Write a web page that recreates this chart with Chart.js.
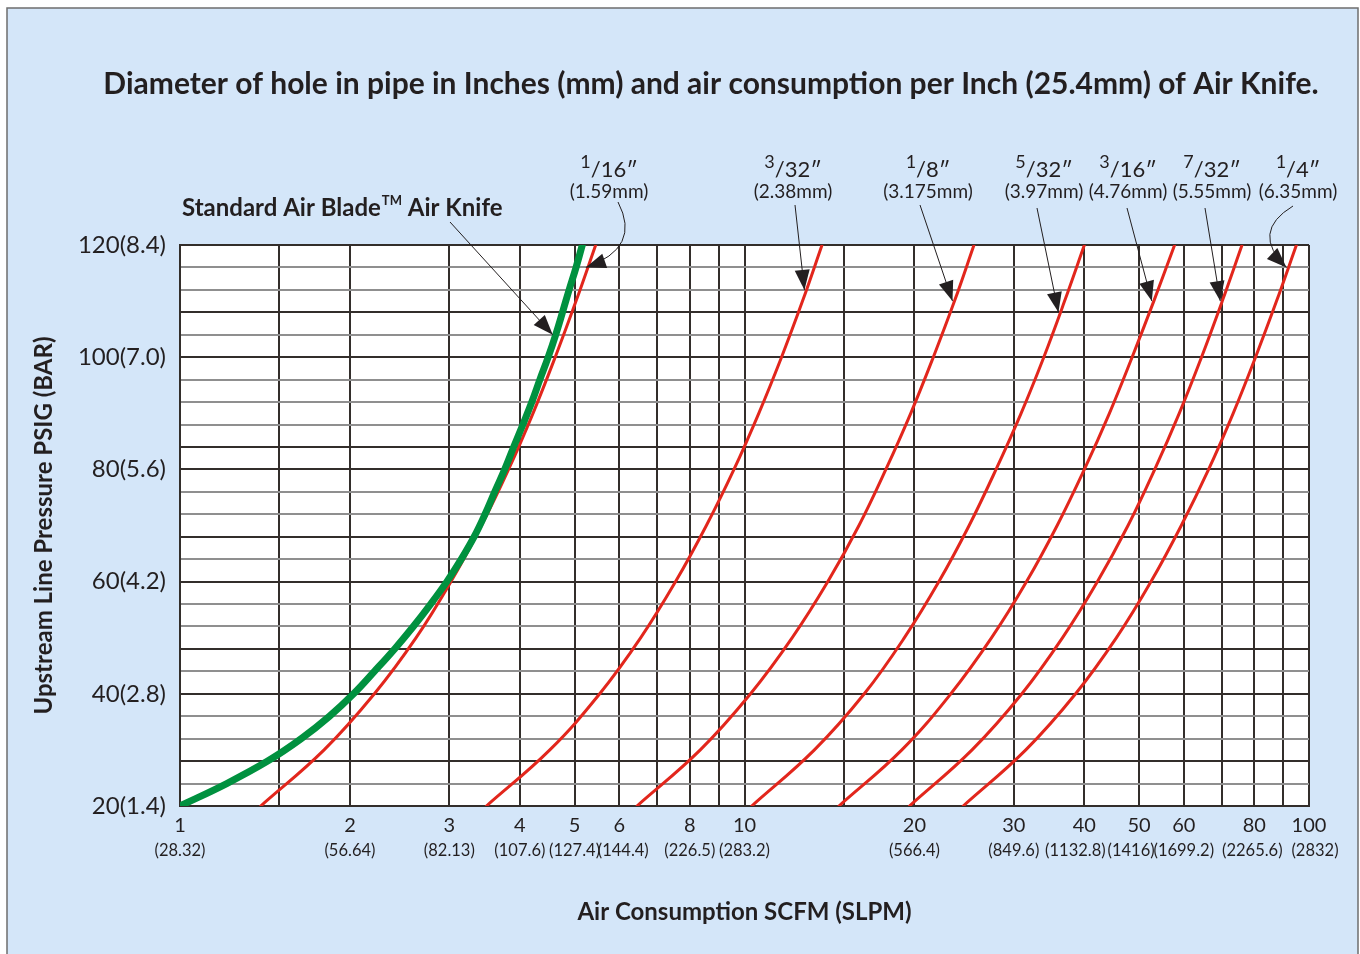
<!DOCTYPE html>
<html>
<head>
<meta charset="utf-8">
<script src="https://cdn.jsdelivr.net/npm/chart.js@4.4.1/dist/chart.umd.min.js"></script>
<style>
html, body { margin: 0; padding: 0; background: #fff; }
</style>
</head>
<body>
<canvas id="chart" width="1360" height="954"></canvas>
<script>
// pressure (psig) on y, air consumption (scfm) on x for each curve
var pressures = [20, 30, 40, 50, 60, 70, 80, 90, 100, 110, 120];
var hole1_16 = [1.39, 1.80, 2.21, 2.62, 3.02, 3.42, 3.82, 4.22, 4.62, 5.03, 5.45];
var hole3_32 = [3.49, 4.52, 5.54, 6.55, 7.55, 8.56, 9.58, 10.6, 11.63, 12.67, 13.72];
var hole1_8 = [6.45, 8.35, 10.25, 12.15, 14.05, 15.95, 17.8, 19.7, 21.6, 23.55, 25.5];
var hole5_32 = [10.3, 13.3, 16.3, 19.2, 22.1, 25.0, 27.9, 30.9, 33.9, 36.9, 40.0];
var hole3_16 = [14.7, 19.0, 23.2, 27.4, 31.6, 35.8, 40.0, 44.3, 48.6, 53.1, 57.8];
var hole7_32 = [19.6, 25.3, 31.0, 36.6, 42.2, 47.8, 53.3, 58.9, 64.5, 70.2, 76.1];
var hole1_4 = [24.4, 31.5, 38.6, 45.6, 52.5, 59.4, 66.4, 73.4, 80.4, 87.6, 95.0];

// the air knife curve bends hard, so it is read on every minor grid line
var bladePressures = [20, 24, 28, 32, 36, 40, 44, 48, 52, 56, 60, 64, 68, 72, 76, 80, 84, 88, 92, 96, 100, 104, 108, 112, 116, 120];
var airBlade = [1.0, 1.21, 1.43, 1.64, 1.84, 2.03, 2.21, 2.40, 2.59, 2.78, 2.97, 3.15, 3.32, 3.47, 3.61, 3.76, 3.90, 4.05, 4.20, 4.34, 4.49, 4.63, 4.76, 4.89, 5.03, 5.16];

var scfmTicks = [1, 2, 3, 4, 5, 6, 8, 10, 20, 30, 40, 50, 60, 80, 100];
var slpmLabels = ['(28.32)', '(56.64)', '(82.13)', '(107.6)', '(127.4)', '(144.4)', '(226.5)', '(283.2)',
  '(566.4)', '(849.6)', '(1132.8)', '(1416)', '(1699.2)', '(2265.6)', '(2832)'];
var xGridLines = [1, 1.5, 2, 3, 4, 5, 6, 7, 8, 9, 10, 15, 20, 30, 40, 50, 60, 70, 80, 90, 100];
var psigTicks = [20, 40, 60, 80, 100, 120];
var barLabels = ['(1.4)', '(2.8)', '(4.2)', '(5.6)', '(7.0)', '(8.4)'];
var darkRows = [20, 28, 40, 48, 60, 68, 80, 84, 100, 108, 120];

// small sideways nudges so the crowded SLPM labels do not collide
var slpmNudge = { 6: 4, 40: -9, 50: -8, 80: -2, 100: 6 };

var FONT = 'Lato, "Open Sans", sans-serif';
var INK = '#231f20';
var GRID = '#332e2b';
var RED = '#e2261c';

// label layout for the hole size curves
var holeLabels = [
  { num: '1', den: '16', mm: '(1.59mm)', cx: 609, data: hole1_16, p: 116, from: [618, 202], bend: [642, 248] },
  { num: '3', den: '32', mm: '(2.38mm)', cx: 793, data: hole3_32, p: 112, from: [795, 205] },
  { num: '1', den: '8', mm: '(3.175mm)', cx: 928, data: hole1_8, p: 110, from: [920, 205] },
  { num: '5', den: '32', mm: '(3.97mm)', cx: 1044, data: hole5_32, p: 108, from: [1037, 208] },
  { num: '3', den: '16', mm: '(4.76mm)', cx: 1128, data: hole3_16, p: 110, from: [1127, 208] },
  { num: '7', den: '32', mm: '(5.55mm)', cx: 1212, data: hole7_32, p: 110, from: [1205, 208] },
  { num: '1', den: '4', mm: '(6.35mm)', cx: 1298, data: hole1_4, p: 116, from: [1293, 206], bend: [1250, 232] }
];

function toPoints(xs, ps) {
  return xs.map(function (v, i) { return { x: v, y: ps[i] }; });
}

function curvePixel(chart, xs, ps, p) {
  var i = 0;
  while (i < ps.length - 2 && p > ps[i + 1]) i++;
  var t = (p - ps[i]) / (ps[i + 1] - ps[i]);
  var lx = Math.log10(xs[i]) + t * (Math.log10(xs[i + 1]) - Math.log10(xs[i]));
  return { x: chart.scales.x.getPixelForValue(Math.pow(10, lx)), y: chart.scales.y.getPixelForValue(p) };
}

function drawArrow(ctx, sx, sy, tx, ty, bend) {
  ctx.beginPath();
  ctx.moveTo(sx, sy);
  var fx = sx, fy = sy;
  if (bend) {
    ctx.quadraticCurveTo(bend[0], bend[1], tx, ty);
    fx = bend[0]; fy = bend[1];
  } else {
    ctx.lineTo(tx, ty);
  }
  ctx.stroke();
  var ang = Math.atan2(ty - fy, tx - fx);
  var len = 20, half = 7.5;
  ctx.beginPath();
  ctx.moveTo(tx, ty);
  ctx.lineTo(tx - len * Math.cos(ang) + half * Math.sin(ang), ty - len * Math.sin(ang) - half * Math.cos(ang));
  ctx.lineTo(tx - len * Math.cos(ang) - half * Math.sin(ang), ty - len * Math.sin(ang) + half * Math.cos(ang));
  ctx.closePath();
  ctx.fill();
}

var backdrop = {
  id: 'backdrop',
  beforeDraw: function (chart) {
    var ctx = chart.ctx, a = chart.chartArea;
    ctx.save();
    ctx.fillStyle = '#ffffff';
    ctx.fillRect(0, 0, chart.width, chart.height);
    ctx.fillStyle = '#d4e6f9';
    ctx.fillRect(7, 8, chart.width - 9, chart.height);
    ctx.strokeStyle = '#6e6e6e';
    ctx.lineWidth = 1.5;
    ctx.strokeRect(7, 8, chart.width - 9, chart.height + 10);
    ctx.fillStyle = '#ffffff';
    ctx.fillRect(a.left, a.top, a.right - a.left, a.bottom - a.top);
    ctx.restore();
  }
};

var annotate = {
  id: 'annotate',
  afterDraw: function (chart) {
    var ctx = chart.ctx;
    var xs = chart.scales.x;
    ctx.save();
    ctx.fillStyle = INK;
    ctx.strokeStyle = INK;
    ctx.lineWidth = 1;

    // title
    ctx.font = 'bold 30px ' + FONT;
    ctx.textAlign = 'center';
    ctx.textBaseline = 'middle';
    ctx.fillText('Diameter of hole in pipe in Inches (mm) and air consumption per Inch (25.4mm) of Air Knife.', 711, 84);

    // SLPM line under the SCFM tick labels
    ctx.font = '16.5px ' + FONT;
    scfmTicks.forEach(function (v, i) {
      ctx.fillText(slpmLabels[i], xs.getPixelForValue(v) + (slpmNudge[v] || 0), 851);
    });

    // air knife label
    ctx.textAlign = 'left';
    ctx.textBaseline = 'alphabetic';
    ctx.font = 'bold 24px ' + FONT;
    var s1 = 'Standard Air Blade';
    ctx.fillText(s1, 182, 216);
    var w1 = ctx.measureText(s1).width;
    ctx.font = 'bold 13px ' + FONT;
    ctx.fillText('TM', 182 + w1 + 1, 205);
    var w2 = ctx.measureText('TM').width;
    ctx.font = 'bold 24px ' + FONT;
    ctx.fillText(' Air Knife', 182 + w1 + w2 + 1, 216);
    var tip = curvePixel(chart, airBlade, bladePressures, 104);
    drawArrow(ctx, 450, 222, tip.x - 3, tip.y, null);

    // hole size labels
    holeLabels.forEach(function (h) {
      ctx.textAlign = 'left';
      ctx.textBaseline = 'alphabetic';
      ctx.font = '18px ' + FONT;
      var wn = ctx.measureText(h.num).width;
      ctx.font = '22px ' + FONT;
      var rest = '/' + h.den + '\u2033';
      var wr = ctx.measureText(rest).width;
      var x0 = h.cx - (wn + wr) / 2;
      ctx.font = '18px ' + FONT;
      ctx.fillText(h.num, x0, 168);
      ctx.font = '22px ' + FONT;
      ctx.fillText(rest, x0 + wn, 177);
      ctx.font = '19px ' + FONT;
      ctx.textAlign = 'center';
      ctx.textBaseline = 'middle';
      ctx.fillText(h.mm, h.cx, 192);
      var t = curvePixel(chart, h.data, pressures, h.p);
      drawArrow(ctx, h.from[0], h.from[1], t.x - 2, t.y, h.bend);
    });
    ctx.restore();
  }
};

function lineSet(xs, ps, color, width) {
  return {
    data: toPoints(xs, ps),
    borderColor: color,
    borderWidth: width,
    pointRadius: 0,
    fill: false,
    tension: 0.4,
    borderCapStyle: 'round'
  };
}

new Chart(document.getElementById('chart'), {
  type: 'line',
  data: {
    datasets: [
      lineSet(airBlade, bladePressures, '#00913f', 7),
      lineSet(hole1_16, pressures, RED, 3),
      lineSet(hole3_32, pressures, RED, 3),
      lineSet(hole1_8, pressures, RED, 3),
      lineSet(hole5_32, pressures, RED, 3),
      lineSet(hole3_16, pressures, RED, 3),
      lineSet(hole7_32, pressures, RED, 3),
      lineSet(hole1_4, pressures, RED, 3)
    ]
  },
  options: {
    responsive: false,
    animation: false,
    layout: { padding: { top: 245, right: 51, bottom: 0, left: 0 } },
    plugins: {
      legend: { display: false },
      tooltip: { enabled: false },
      title: { display: false }
    },
    scales: {
      x: {
        type: 'logarithmic',
        min: 1,
        max: 100,
        afterBuildTicks: function (s) {
          s.ticks = xGridLines.map(function (v) { return { value: v }; });
        },
        afterFit: function (s) { s.height = 148; },
        ticks: {
          autoSkip: false,
          maxRotation: 0,
          padding: 8,
          color: INK,
          font: { family: FONT, size: 20, lineHeight: 1.2 },
          callback: function (v) {
            return scfmTicks.indexOf(v) < 0 ? '' : String(v);
          }
        },
        grid: { color: GRID, lineWidth: 2, drawTicks: false },
        border: { color: GRID, width: 2 },
        title: {
          display: true,
          text: 'Air Consumption SCFM (SLPM)',
          color: INK,
          font: { family: FONT, size: 24, weight: 'bold', lineHeight: 1.2 },
          padding: { top: 0, bottom: 27 }
        }
      },
      y: {
        type: 'linear',
        min: 20,
        max: 120,
        afterBuildTicks: function (s) {
          var t = [];
          for (var v = 20; v <= 120; v += 4) t.push({ value: v });
          s.ticks = t;
        },
        afterFit: function (s) { s.width = 180; },
        ticks: {
          autoSkip: false,
          padding: 14,
          color: INK,
          font: { family: FONT, size: 24 },
          callback: function (v) {
            var i = psigTicks.indexOf(v);
            return i < 0 ? '' : v + barLabels[i];
          }
        },
        grid: {
          color: function (c) { return darkRows.indexOf(c.tick.value) >= 0 ? GRID : '#8f8f8f'; },
          lineWidth: 2,
          drawTicks: false
        },
        border: { color: GRID, width: 2 },
        title: {
          display: true,
          text: 'Upstream Line Pressure PSIG (BAR)',
          color: INK,
          font: { family: FONT, size: 24, weight: 'bold', lineHeight: 1.2 },
          padding: { top: 30, bottom: 0 }
        }
      }
    }
  },
  plugins: [backdrop, annotate]
});
</script>
</body>
</html>
